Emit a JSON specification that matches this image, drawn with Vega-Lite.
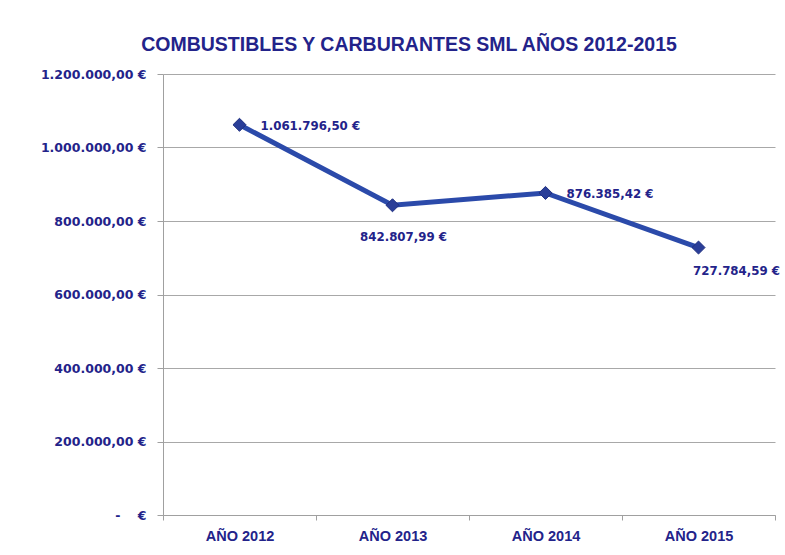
{
  "$schema": "https://vega.github.io/schema/vega-lite/v6.json",
  "width": 612,
  "height": 441,
  "autosize": {"type": "none"},
  "padding": {"left": 163, "top": 74, "right": 10, "bottom": 40},
  "background": "white",
  "config": {
    "locale": {"number": {"decimal": ",", "thousands": ".", "grouping": [3], "currency": ["", " €"]}},
    "view": {"stroke": null},
    "font": "Liberation Sans"
  },
  "title": {
    "text": "COMBUSTIBLES Y CARBURANTES SML AÑOS 2012-2015",
    "font": "Liberation Sans",
    "fontSize": 19.5,
    "fontWeight": "bold",
    "color": "#23238a",
    "anchor": "middle",
    "dx": -60,
    "offset": 13
  },
  "data": {
    "values": [
      {"year": "AÑO 2012", "value": 1061796.50, "label": "1.061.796,50 €"},
      {"year": "AÑO 2013", "value": 842807.99, "label": "842.807,99 €"},
      {"year": "AÑO 2014", "value": 876385.42, "label": "876.385,42 €"},
      {"year": "AÑO 2015", "value": 727784.59, "label": "727.784,59 €"}
    ]
  },
  "encoding": {
    "x": {
      "field": "year", "type": "nominal", "sort": null,
      "scale": {"paddingInner": 0, "paddingOuter": 0},
      "axis": {
        "title": null, "labelAngle": 0,
        "labelFont": "Liberation Sans", "labelFontSize": 14.5, "labelFontWeight": "bold",
        "labelColor": "#23238a", "labelPadding": 9,
        "domainColor": "#a0a0a0", "tickColor": "#a0a0a0", "tickBand": "extent", "tickSize": 5,
        "grid": false
      }
    },
    "y": {
      "field": "value", "type": "quantitative",
      "scale": {"domain": [0, 1200000], "nice": false},
      "axis": {
        "title": null, "values": [0, 200000, 400000, 600000, 800000, 1000000, 1200000],
        "labelOverlap": false,
        "labelExpr": "datum.value == 0 ? '-\u00a0\u00a0\u00a0\u00a0€' : format(datum.value, ',.2f') + ' €'",
        "labelFont": "DejaVu Sans", "labelFontSize": 12.5, "labelFontWeight": "bold",
        "labelColor": "#23238a", "labelPadding": 11,
        "domainColor": "#a0a0a0", "tickColor": "#a0a0a0", "tickSize": 6,
        "grid": true, "gridColor": "#a8a8a8", "gridWidth": 1
      }
    }
  },
  "layer": [
    {"mark": {"type": "line", "color": "#2b4aaa", "strokeWidth": 5}},
    {"mark": {"type": "point", "shape": "diamond", "filled": true, "size": 170, "color": "#2a3e98", "opacity": 1, "stroke": "#1f2f80", "strokeWidth": 1}},
    {
      "transform": [{"filter": "datum.year == 'AÑO 2012' || datum.year == 'AÑO 2014'"}],
      "mark": {"type": "text", "align": "left", "baseline": "middle", "dx": 21, "dy": 1, "font": "DejaVu Sans", "fontSize": 11.8, "fontWeight": "bold", "color": "#23238a"},
      "encoding": {"text": {"field": "label"}}
    },
    {
      "transform": [{"filter": "datum.year == 'AÑO 2013'"}],
      "mark": {"type": "text", "align": "center", "baseline": "middle", "dx": 11, "dy": 32, "font": "DejaVu Sans", "fontSize": 11.8, "fontWeight": "bold", "color": "#23238a"},
      "encoding": {"text": {"field": "label"}}
    },
    {
      "transform": [{"filter": "datum.year == 'AÑO 2015'"}],
      "mark": {"type": "text", "align": "center", "baseline": "middle", "dx": 38, "dy": 23, "font": "DejaVu Sans", "fontSize": 11.8, "fontWeight": "bold", "color": "#23238a"},
      "encoding": {"text": {"field": "label"}}
    }
  ]
}
